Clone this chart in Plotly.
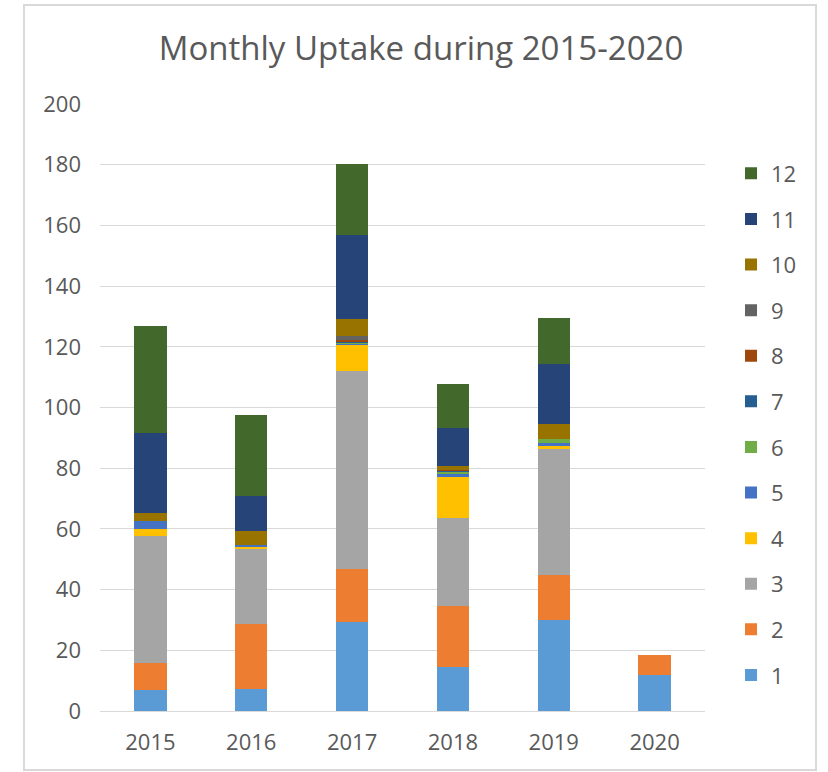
import plotly.graph_objects as go

years = ["2015", "2016", "2017", "2018", "2019", "2020"]

m1 = [6.8, 7.3, 29.4, 14.6, 29.9, 11.7]
m2 = [8.9, 21.5, 17.4, 20.1, 14.9, 6.7]
m3 = [41.8, 24.6, 65.3, 28.9, 41.6, 0]
m4 = [2.6, 0.5, 8.5, 13.6, 0.9, 0]
m5 = [2.6, 0.7, 0.5, 1.1, 1.1, 0]
m6 = [0, 0, 0.4, 0.5, 1.1, 0]
m7 = [0, 0, 0.3, 0.4, 0, 0]
m8 = [0, 0, 0.5, 0.3, 0, 0]
m9 = [0, 0, 1.1, 0, 0, 0]
m10 = [2.7, 4.7, 5.6, 1.3, 5.0, 0]
m11 = [26.2, 11.7, 27.9, 12.4, 19.9, 0]
m12 = [35.3, 26.6, 23.2, 14.7, 15.0, 0]

months = [m1, m2, m3, m4, m5, m6, m7, m8, m9, m10, m11, m12]
colors = ["#5B9BD5", "#ED7D31", "#A5A5A5", "#FFC000", "#4472C4", "#70AD47",
          "#255E91", "#9E480E", "#636363", "#997300", "#264478", "#43682B"]

font = "Open Sans, Segoe UI, sans-serif"
grey = "#595959"

fig = go.Figure()
for i, (vals, c) in enumerate(zip(months, colors), start=1):
    fig.add_trace(go.Bar(
        x=years, y=vals, name=str(i), legendgroup=str(i), legendrank=100 - i,
        marker={"color": c, "line": {"width": 0}},
    ))

fig.update_layout(
    width=828, height=772,
    barmode="stack", bargap=0.68,
    paper_bgcolor="white", plot_bgcolor="white",
    margin={"l": 100, "r": 123, "t": 104, "b": 61},
    title={"text": "Monthly Uptake during 2015-2020", "x": (421 - 100) / 605,
           "xref": "paper", "xanchor": "center",
           "y": 1 - 48 / 772, "yanchor": "middle",
           "font": {"family": font, "size": 33, "color": grey}},
    font={"family": font, "size": 22, "color": grey},
    legend={"x": 1.043, "xanchor": "left", "y": 0.920, "yanchor": "top",
            "traceorder": "grouped", "tracegroupgap": 14,
            "font": {"size": 22, "color": grey}},
    xaxis={"showgrid": False, "showline": True, "linecolor": "#D9D9D9", "linewidth": 1,
           "ticks": "", "ticklabelstandoff": 12},
    yaxis={"range": [0, 200], "dtick": 20, "showgrid": True, "gridcolor": "#D9D9D9",
           "gridwidth": 1, "zeroline": False, "showline": False, "ticks": "",
           "ticklabelstandoff": 18},
    shapes=[{"type": "rect", "xref": "paper", "yref": "paper",
             "x0": (24 - 100) / 605, "x1": (816 - 100) / 605,
             "y0": (711 - 770) / 607, "y1": (711 - 5) / 607,
             "line": {"color": "#D9D9D9", "width": 2}, "layer": "below"}],
)

fig.write_html("out.html", config={"displayModeBar": False},
               post_script="document.body.style.margin='0';")
